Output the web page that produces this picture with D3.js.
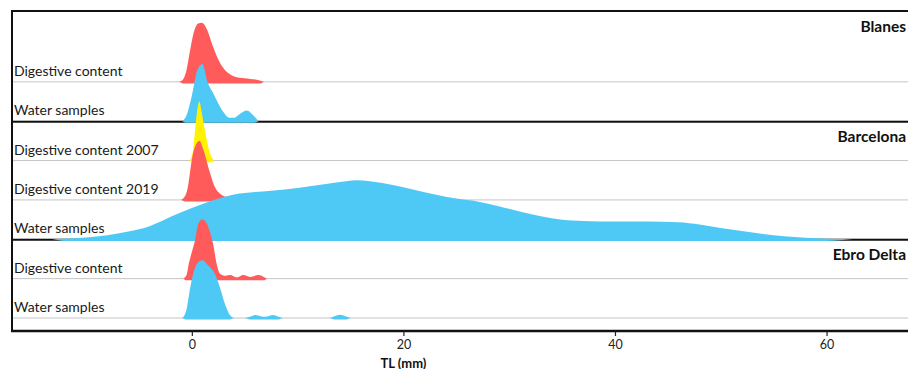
<!DOCTYPE html>
<html><head><meta charset="utf-8">
<script src="https://cdn.jsdelivr.net/npm/d3@7"></script>
<style>
body{margin:0;background:#fff;}
svg{display:block;font-family:Lato,"Open Sans",sans-serif;}
</style>
</head><body>
<svg id="chart" width="908" height="369"></svg>
<script>
// ---- data ----
const sites = ["Blanes", "Barcelona", "Ebro Delta"];
// ridge rows, top to bottom
const rowLabels = ["Digestive content", "Water samples", "Digestive content 2007",
  "Digestive content 2019", "Water samples", "Digestive content", "Water samples"];
const rowSite = [0, 0, 1, 1, 1, 2, 2];
const rowColors = ["#ff5b5b", "#4ec9f5", "#fff200", "#ff5b5b", "#4ec9f5", "#ff5b5b", "#4ec9f5"];
const xTicks = [0, 20, 40, 60];
const xLabel = "TL (mm)";

// [TL (mm), relative density]
const blanesDigestive = [[-1.2,0],[-0.8,0.05],[-0.5,0.2],[-0.2,0.5],[0.2,0.85],[0.6,0.99],[0.95,1.0],[1.4,0.9],[2.0,0.6],[2.5,0.38],[3.0,0.23],[3.5,0.14],[4.0,0.09],[4.5,0.07],[5.0,0.06],[5.5,0.05],[6.0,0.04],[6.5,0.02],[6.8,0]];
const blanesWater = [[-0.9,0],[-0.5,0.1],[0,0.43],[0.5,0.85],[1.0,0.97],[1.5,0.65],[2.0,0.48],[2.5,0.3],[3.0,0.15],[3.5,0.06],[4.0,0.06],[4.6,0.13],[5.2,0.18],[5.8,0.1],[6.3,0]];
const barcelonaDigestive2007 = [[-0.2,0],[0.1,0.16],[0.3,0.5],[0.55,0.9],[0.72,1.0],[0.9,0.85],[1.25,0.5],[1.65,0.16],[2.0,0.02],[2.1,0]];
const barcelonaDigestive2019 = [[-1.0,0],[-0.55,0.1],[-0.3,0.3],[-0.15,0.5],[0.2,0.85],[0.72,1.0],[1.1,0.85],[1.65,0.5],[2.2,0.21],[2.7,0.1],[3.2,0.05],[3.6,0]];
const barcelonaWater = [[-13.2,0],[-12,0.01],[-10,0.03],[-8,0.07],[-6,0.13],[-4,0.22],[-2,0.38],[0,0.53],[2,0.66],[4,0.76],[6,0.8],[8,0.83],[10,0.87],[12,0.92],[14,0.97],[15.5,1.0],[17,0.98],[19,0.92],[21,0.84],[23,0.76],[25,0.69],[27,0.64],[29,0.56],[31,0.47],[33,0.39],[35,0.33],[37,0.31],[40,0.3],[43,0.3],[46,0.29],[48,0.25],[50,0.19],[52,0.14],[54,0.09],[56,0.05],[58,0.025],[60,0.01],[62.5,0]];
const ebroDigestive = [[-0.8,0],[-0.5,0.06],[-0.3,0.24],[0,0.45],[0.3,0.65],[0.6,0.92],[0.94,1.0],[1.3,0.97],[1.7,0.8],[2.0,0.6],[2.36,0.24],[2.67,0.08],[3.2,0.05],[3.62,0.06],[4.25,0.02],[4.88,0.06],[5.5,0.03],[6.3,0.06],[6.8,0.03],[7.1,0]];
const ebroWater = [[-0.9,0],[-0.5,0.15],[-0.16,0.51],[0.3,0.85],[0.7,0.96],[1.04,0.98],[1.5,0.9],[2.2,0.74],[2.67,0.51],[3.15,0.23],[3.6,0.05],[4.0,0],[5.0,0],[5.5,0.02],[6.0,0.05],[6.5,0.03],[6.9,0.02],[7.7,0.05],[8.2,0.02],[8.6,0],[13.0,0],[13.5,0.03],[14.0,0.055],[14.5,0.03],[15,0]];

const series = [blanesDigestive, blanesWater, barcelonaDigestive2007, barcelonaDigestive2019,
  barcelonaWater, ebroDigestive, ebroWater];

// ---- layout ----
const mLeft = 12, mRight = 908, mTop = 11, mBottom = 331;
const nRows = rowLabels.length;
const ridgeScale = 1.5;

const svg = d3.select("#chart");
const x = d3.scaleLinear().domain([-17, 67.7]).range([mLeft, mRight]);
// row index measured from bottom (0) to top (6)
const y = d3.scaleLinear().domain([-0.33, 7.8]).range([mBottom, mTop]);
const rowPos = i => nRows - 1 - i;

// grey baselines
svg.append("g").selectAll("line").data(rowLabels).join("line")
  .attr("x1", mLeft).attr("x2", mRight + 4)
  .attr("y1", (d, i) => y(rowPos(i))).attr("y2", (d, i) => y(rowPos(i)))
  .attr("stroke", "#c4c4c4").attr("stroke-width", 1);

// panel separators (between sites) at the baseline of each site's last row
const sepRows = [];
for (let i = 1; i < nRows; i++) if (rowSite[i] !== rowSite[i - 1]) sepRows.push(rowPos(i - 1));
svg.append("g").selectAll("line").data(sepRows).join("line")
  .attr("x1", mLeft).attr("x2", mRight + 4)
  .attr("y1", d => y(d) + 0.5).attr("y2", d => y(d) + 0.5)
  .attr("stroke", "#111").attr("stroke-width", 2);

// ridges (top rows first so lower rows overlap)
const area = (row) => d3.area()
  .x(d => x(d[0]))
  .y0(d => y(row) + (d[1] > 0 ? 1.6 : 0))
  .y1(d => y(row + ridgeScale * d[1]))
  .curve(d3.curveMonotoneX);

svg.append("g").selectAll("path").data(series).join("path")
  .attr("d", (d, i) => area(rowPos(i))(d))
  .attr("fill", (d, i) => rowColors[i]);

// frame
svg.append("line").attr("x1", mLeft).attr("x2", mRight + 4).attr("y1", mTop).attr("y2", mTop)
  .attr("stroke", "#111").attr("stroke-width", 2);
svg.append("line").attr("x1", mLeft).attr("x2", mLeft).attr("y1", mTop - 1).attr("y2", mBottom + 1)
  .attr("stroke", "#111").attr("stroke-width", 2);
svg.append("line").attr("x1", mLeft - 1).attr("x2", mRight + 4).attr("y1", mBottom).attr("y2", mBottom)
  .attr("stroke", "#111").attr("stroke-width", 2.6);

// row labels
svg.append("g").selectAll("text").data(rowLabels).join("text")
  .attr("x", mLeft + 2).attr("y", (d, i) => y(rowPos(i)) - 6)
  .attr("font-size", 14).attr("fill", "#1a1a1a")
  .text(d => d);

// site titles
const siteTopRow = sites.map((s, k) => {
  const idx = rowSite.indexOf(k);
  return k === 0 ? 7.8 : rowPos(idx) + 1;
});
svg.append("g").selectAll("text").data(sites).join("text")
  .attr("x", 906).attr("text-anchor", "end")
  .attr("y", (d, k) => y(siteTopRow[k]) + 20.5)
  .attr("font-size", 15.5).attr("font-weight", "bold").attr("fill", "#111")
  .text(d => d);

// x axis
const axis = svg.append("g").attr("transform", `translate(0,${mBottom})`)
  .call(d3.axisBottom(x).tickValues(xTicks).tickSize(5).tickPadding(4).tickSizeOuter(0));
axis.select(".domain").remove();
axis.selectAll(".tick line").attr("stroke", "#222").attr("stroke-width", 1.2);
axis.selectAll(".tick text").attr("font-size", 12.5).attr("fill", "#222")
  .attr("font-family", "Lato, 'Open Sans', sans-serif");

svg.append("text").attr("x", x(20)).attr("y", 367.5).attr("text-anchor", "middle")
  .attr("font-size", 13).attr("font-weight", "bold").attr("fill", "#111")
  .text(xLabel);
</script>
</body></html>
